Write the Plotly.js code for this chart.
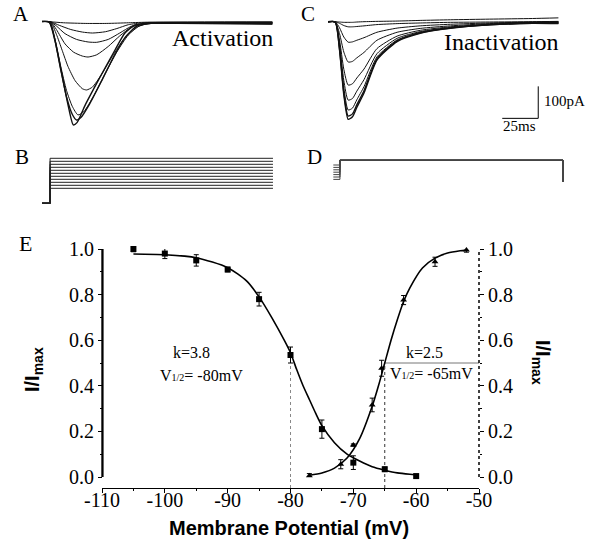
<!DOCTYPE html>
<html><head><meta charset="utf-8">
<script src="https://cdn.plot.ly/plotly-3.0.1.min.js"></script>
<style>html,body{margin:0;padding:0;background:#fff}#chart{width:597px;height:542px}</style>
</head><body><div id="chart"></div>
<script>
// ---------- Panel E data (Membrane potential mV, normalised current) ----------
const inactV   = [-105, -100, -95, -90, -85, -80, -75, -70, -65, -60];
const inactI   = [1.00, 0.98, 0.95, 0.91, 0.78, 0.535, 0.21, 0.063, 0.034, 0.004];
const inactErr = [0.012, 0.022, 0.025, 0.01, 0.03, 0.035, 0.04, 0.03, 0.01, 0.008];
const actV     = [-77, -72, -70, -67, -65.5, -62, -57, -52];
const actI     = [0.005, 0.056, 0.14, 0.316, 0.477, 0.776, 0.944, 0.996];
const actErr   = [0.01, 0.02, 0.005, 0.03, 0.035, 0.02, 0.02, 0.01];
// fitted curves
const inactFitV = [-105, -100, -95, -90, -87, -85, -83, -81, -80, -79, -78, -77, -76, -75, -73, -71, -69, -67, -65, -63, -61, -60];
const inactFitI = [0.978, 0.975, 0.962, 0.918, 0.86, 0.79, 0.70, 0.60, 0.545, 0.47, 0.40, 0.34, 0.28, 0.225, 0.15, 0.10, 0.07, 0.045, 0.03, 0.018, 0.012, 0.01];
const actFitV = [-77, -75, -73, -71, -69, -67, -66, -65, -64, -63, -62, -61, -59, -57, -55, -53, -52];
const actFitI = [0.008, 0.018, 0.039, 0.083, 0.168, 0.31, 0.40, 0.5, 0.6, 0.69, 0.77, 0.83, 0.917, 0.96, 0.982, 0.992, 0.995];
// half-activation / half-inactivation guide values
const halfV = [-80, -65];
const halfI = [0.53, 0.5];
const xRange = [-110, -50];
const yRange = [0, 1.0];
const xTickVals = [-110, -100, -90, -80, -70, -60, -50];
const xTickText = ['-110', '-100', '-90', '-80', '-70', '-60', '-50'];

// ---------- Panel A: activation current traces (ms, pA) ----------
const aTimes = [
  [0, 6, 15, 30, 45, 60, 75, 160],
  [0, 6, 12, 20, 28, 35, 44, 52, 60, 70, 80, 160],
  [0, 6, 10, 16, 24, 32, 38, 46, 54, 62, 70, 80, 160],
  [0, 6, 10, 16, 22, 28, 32, 38, 46, 54, 62, 70, 80, 160],
  [0, 6, 10, 14, 18, 23, 28, 31, 35, 41, 48, 56, 64, 72, 82, 160],
  [0, 5, 9, 13, 17, 21, 25, 29, 36, 44, 52, 60, 68, 76, 86, 160],
  [0, 5, 9, 13, 17, 21, 24, 27, 33, 42, 50, 58, 66, 76, 160],
  [0, 5.6, 9, 13.9, 18.1, 21.7, 24.3, 29.9, 40.3, 50.7, 57.6, 64.6, 75, 160]
];
const aCurrents = [
  [0, -1, -4, -6, -6, -4, -2, -1],
  [0, -1, -12, -25, -33, -36, -32, -22, -10, -4, -3, -3],
  [0, -1, -14, -38, -56, -64, -65, -56, -36, -15, -6, -4, -5],
  [0, -1, -25, -70, -96, -108, -111, -104, -78, -45, -18, -7, -5, -7],
  [0, -2, -40, -90, -140, -185, -210, -214, -205, -168, -115, -60, -22, -8, -5, -4],
  [0, -2, -55, -140, -215, -265, -292, -282, -232, -162, -95, -42, -13, -6, -6, -9],
  [0, -2, -60, -150, -235, -290, -308, -300, -258, -180, -108, -48, -14, -6, -3],
  [0, -2, -58, -167, -261, -323, -316, -262, -174, -89, -36, -11, -5, -6]
];

// ---------- Panel C: inactivation current traces (ms, pA) ----------
const cTime = [0, 5, 8, 11, 14, 17, 20, 25, 34, 48, 64, 85, 112, 142, 160];
const cCurrents = [
  [0, 0, -1, -2, -2, -2, -1, 0, 1, 2, 4, 6, 8, 10, 12],
  [0, 0, -5, -12, -16, -16, -15, -13, -9, -6, -4, -2, -1, 0, 1],
  [0, 0, -19, -48, -64, -63, -58, -50, -33, -20, -13, -8, -4, -1, 0],
  [0, -1, -37, -95, -126, -124, -113, -96, -58, -33, -21, -13, -6, -2, -1],
  [0, -1, -57, -149, -198, -194, -176, -148, -84, -45, -27, -16, -8, -3, -2],
  [0, -1, -71, -184, -245, -240, -217, -181, -100, -52, -31, -18, -9, -4, -3],
  [0, -1, -80, -207, -276, -270, -244, -203, -110, -57, -33, -19, -9, -4, -4],
  [0, -1, -85, -221, -295, -288, -260, -216, -116, -60, -35, -20, -10, -5, -5],
  [0, -1, -88, -229, -305, -297, -268, -223, -120, -62, -36, -21, -10, -5, -6]
];
const scaleBarMs = 25, scaleBarPA = 100;
const scaleCornerT = 146, scaleCornerI = -302;

// ---------- Panel B / D: voltage protocols (ms, mV) ----------
const bHold = -110;
const bSteps = [-85, -80, -75, -70, -65, -60, -55, -50, -45, -40, -35];
const bTimes = [0, 5.6, 160.4];
const dPre = [-80, -85, -90, -95, -100, -105, -110];
const dTest = -70, dHold = -115;
const dTimes = [3.7, 8.3, 163.2];

// ---------- build traces ----------
const traces = [];
aTimes.forEach((t, k) => traces.push({x: t, y: aCurrents[k], xaxis: 'x2', yaxis: 'y2', mode: 'lines',
  line: {color: '#111', width: k >= 6 ? 1.4 : 1, shape: 'spline', smoothing: 0.6}, hoverinfo: 'skip'}));
cCurrents.forEach((c, k) => traces.push({x: cTime, y: c, xaxis: 'x3', yaxis: 'y3', mode: 'lines',
  line: {color: '#111', width: k >= 7 ? 1.4 : 1, shape: 'spline', smoothing: 0.6}, hoverinfo: 'skip'}));
traces.push({x: [scaleCornerT - scaleBarMs, scaleCornerT, scaleCornerT], y: [scaleCornerI, scaleCornerI, scaleCornerI + scaleBarPA],
  xaxis: 'x3', yaxis: 'y3', mode: 'lines', line: {color: '#000', width: 1}, hoverinfo: 'skip'});
bSteps.forEach(v => traces.push({x: [bTimes[0], bTimes[1], bTimes[1], bTimes[2]], y: [bHold, bHold, v, v],
  xaxis: 'x4', yaxis: 'y4', mode: 'lines', line: {color: '#222', width: 1}, hoverinfo: 'skip'}));
dPre.forEach(v => traces.push({x: [dTimes[0], dTimes[1], dTimes[1], dTimes[2], dTimes[2]], y: [v, v, dTest, dTest, dHold],
  xaxis: 'x5', yaxis: 'y5', mode: 'lines', line: {color: '#444', width: 1}, hoverinfo: 'skip'}));

// E
traces.push({x: [halfV[0], halfV[0]], y: [0, halfI[0]], mode: 'lines', line: {color: '#888', width: 1, dash: 'dot'}});
traces.push({x: [halfV[1], halfV[1]], y: [0, halfI[1]], mode: 'lines', line: {color: '#333', width: 1, dash: 'dot'}});
traces.push({x: [halfV[1], xRange[1]], y: [halfI[1], halfI[1]], mode: 'lines', line: {color: '#777', width: 1}});
traces.push({x: inactFitV, y: inactFitI, mode: 'lines', line: {color: '#000', width: 1.6, shape: 'spline', smoothing: 0.7}});
traces.push({x: actFitV, y: actFitI, mode: 'lines', line: {color: '#000', width: 1.6, shape: 'spline', smoothing: 0.7}});
traces.push({x: inactV, y: inactI, mode: 'markers', cliponaxis: false,
  marker: {symbol: 'square', size: 6, color: '#000'},
  error_y: {type: 'data', array: inactErr, visible: true, color: '#000', thickness: 1, width: 2.5}});
traces.push({x: actV, y: actI, mode: 'markers', cliponaxis: false,
  marker: {symbol: 'triangle-up', size: 6, color: '#000'},
  error_y: {type: 'data', array: actErr, visible: true, color: '#000', thickness: 1, width: 2.5}});
traces.push({x: actV, y: actI, yaxis: 'y6', mode: 'markers', marker: {opacity: 0}, hoverinfo: 'skip'});

// ---------- layout ----------
const W = 597, H = 542;
const px = (x, y) => ({x: x / W, y: 1 - y / H, xref: 'paper', yref: 'paper'});
const serif = 'Liberation Serif, Times New Roman, serif';
const sans = 'Liberation Sans, Arial, sans-serif';
function ann(x, y, text, size, opts) {
  return Object.assign(px(x, y), {text: text, showarrow: false, font: {family: serif, size: size, color: '#000'},
    xanchor: 'center', yanchor: 'middle'}, opts || {});
}
const hidden = {visible: false, showgrid: false, zeroline: false, fixedrange: true};
const xAxisPos = (H - 488) / H;
const xDom = [102 / W, 479 / W];
const yDom = [(H - 477) / H, (H - 249) / H];
const yCommon = {range: yRange, domain: yDom, showline: false,
  ticks: 'outside', ticklen: 4, tickcolor: '#000', tick0: 0, dtick: 0.2, tickformat: '.1f',
  minor: {tick0: 0, dtick: 0.1, ticklen: 2, ticks: 'outside', tickcolor: '#000'},
  tickfont: {family: serif, size: 20, color: '#000'}, showgrid: false, zeroline: false};

const layout = {
  width: W, height: H, margin: {l: 0, r: 0, t: 0, b: 0},
  paper_bgcolor: '#fff', plot_bgcolor: 'rgba(0,0,0,0)', showlegend: false,
  xaxis: {domain: xDom, range: xRange, anchor: 'free', position: xAxisPos,
    showline: true, linecolor: '#000', linewidth: 1,
    ticks: 'outside', ticklen: 4, tickcolor: '#000', tickmode: 'array', tickvals: xTickVals, ticktext: xTickText,
    ticklabelstandoff: -10,
    minor: {tickmode: 'linear', tick0: -110, dtick: 5, ticklen: 2, ticks: 'outside', tickcolor: '#000'},
    tickfont: {family: serif, size: 20, color: '#000'}, showgrid: false, zeroline: false},
  yaxis: Object.assign({anchor: 'free', position: xDom[0], side: 'left'}, yCommon),
  yaxis6: Object.assign({anchor: 'free', position: xDom[1], side: 'right', overlaying: 'y'}, yCommon),
  xaxis2: Object.assign({domain: [42 / W, 275 / W], range: [0, 161.81], anchor: 'y2'}, hidden),
  yaxis2: Object.assign({domain: [(H - 130) / H, (H - 8) / H], range: [-339.1, 42.2], anchor: 'x2'}, hidden),
  xaxis3: Object.assign({domain: [328 / W, 568 / W], range: [0, 166.67], anchor: 'y3'}, hidden),
  yaxis3: Object.assign({domain: [(H - 130) / H, (H - 8) / H], range: [-338.4, 42.8], anchor: 'x3'}, hidden),
  xaxis4: Object.assign({domain: [42 / W, 275 / W], range: [0, 161.81], anchor: 'y4'}, hidden),
  yaxis4: Object.assign({domain: [(H - 210) / H, (H - 150) / H], range: [-121.17, -21.17], anchor: 'x4'}, hidden),
  xaxis5: Object.assign({domain: [328 / W, 568 / W], range: [0, 166.67], anchor: 'y5'}, hidden),
  yaxis5: Object.assign({domain: [(H - 195) / H, (H - 150) / H], range: [-142.5, -48.75], anchor: 'x5'}, hidden),
  shapes: [
    {type: 'line', xref: 'paper', yref: 'paper', x0: xDom[1], x1: xDom[1], y0: yDom[0], y1: yDom[1], layer: 'above', line: {color: '#000', width: 1.5, dash: 'dot'}},
    {type: 'line', xref: 'paper', yref: 'paper', x0: 102.5 / W, x1: 102.5 / W, y0: yDom[0], y1: yDom[1], layer: 'above', line: {color: '#000', width: 2, dash: 'solid'}},
    {type: 'rect', xref: 'paper', yref: 'paper', x0: 101.6 / W, x1: 103.2 / W, y0: yDom[0], y1: yDom[1], layer: 'above', fillcolor: '#000', line: {width: 0}}
  ].concat(
    halfV.map((v, k) => ({type: 'line', xref: 'x', yref: 'paper', x0: v, x1: v, y0: xAxisPos, y1: yDom[0],
      line: {color: k === 0 ? '#888' : '#333', width: 1, dash: 'dot'}}))),
  annotations: [
    ann(21, 14, 'A', 21), ann(308, 14, 'C', 21), ann(22, 157, 'B', 21), ann(314, 157, 'D', 21), ann(25, 243, 'E', 22),
    ann(222, 38, 'Activation', 24), ann(501, 42, 'Inactivation', 24),
    ann(542, 101, '100pA', 15, {xanchor: 'left'}), ann(519, 126, '25ms', 15),
    {x: -95.7, y: 0.544, xref: 'x', yref: 'y', text: 'k=3.8', showarrow: false, font: {family: serif, size: 16, color: '#000'}},
    {x: -94.2, y: 0.447, xref: 'x', yref: 'y', text: "V<span style='font-size:10px'>1/2</span>= -80mV", showarrow: false, font: {family: serif, size: 16, color: '#000'}},
    {x: -58.6, y: 0.544, xref: 'x', yref: 'y', text: 'k=2.5', showarrow: false, font: {family: serif, size: 16, color: '#000'}},
    {x: -57.55, y: 0.456, xref: 'x', yref: 'y', text: "V<span style='font-size:10px'>1/2</span>= -65mV", showarrow: false, font: {family: serif, size: 16, color: '#000'}},
    Object.assign(px(289, 528), {text: '<b>Membrane Potential (mV)</b>', showarrow: false, font: {family: sans, size: 20, color: '#000'}, xanchor: 'center', yanchor: 'middle'}),
    Object.assign(px(33, 370), {text: '<b>I/I<sub>max</sub></b>', textangle: -90, showarrow: false, font: {family: sans, size: 20, color: '#000'}, xanchor: 'center', yanchor: 'middle'}),
    Object.assign(px(541, 362), {text: '<b>I/I<sub>max</sub></b>', textangle: 90, showarrow: false, font: {family: sans, size: 20, color: '#000'}, xanchor: 'center', yanchor: 'middle'})
  ]
};
Plotly.newPlot('chart', traces, layout, {staticPlot: true, displayModeBar: false});
</script>
</body></html>
